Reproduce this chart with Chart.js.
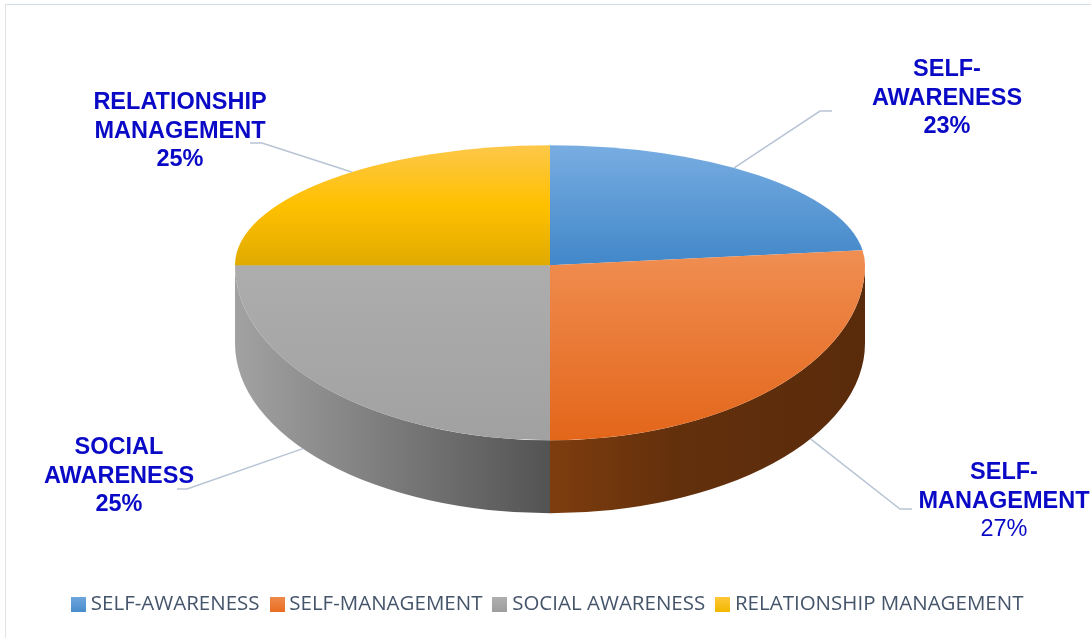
<!DOCTYPE html>
<html>
<head>
<meta charset="utf-8">
<script src="https://cdn.jsdelivr.net/npm/chart.js@4.4.1/dist/chart.umd.min.js"></script>
<style>
  html, body { margin: 0; padding: 0; background: #ffffff; }
  #wrap { position: relative; width: 1091px; height: 638px; overflow: hidden; }
  #wrap canvas { position: absolute; left: 0; top: 0; }
  #frame {
    position: absolute; left: 5px; top: 4px; width: 1200px; height: 800px;
    border-top: 1.5px solid #D5DDE7; border-left: 1.5px solid #E0E3E8;
    pointer-events: none;
  }
</style>
</head>
<body>
<div id="wrap">
  <canvas id="chart" width="1091" height="638"></canvas>
  <div id="frame"></div>
</div>
<script>
// ---- data ----
const categories = ['SELF-AWARENESS', 'SELF-MANAGEMENT', 'SOCIAL AWARENESS', 'RELATIONSHIP MANAGEMENT'];
const shares = [23, 27, 25, 25];
const calloutNames = [['SELF-', 'AWARENESS'], ['SELF-', 'MANAGEMENT'], ['SOCIAL', 'AWARENESS'], ['RELATIONSHIP', 'MANAGEMENT']];

// ---- styling ----
const legendStops = [
  ['#6FA7DE', '#4A8DCD'],
  ['#F08B4B', '#E86E22'],
  ['#B0B0B0', '#9E9E9E'],
  ['#FFC83A', '#F2B800']
];
// vertical gradient stops for each slice's top face (0 = far edge, 1 = near edge)
const faceStops = [
  [[0, '#78ADE1'], [0.5, '#4187C9']],
  [[0.45, '#F08E52'], [1, '#E3661A']],
  [[0.5, '#ADADAD'], [1, '#A1A1A1']],
  [[0, '#FDC84A'], [0.25, '#FFC000'], [0.5, '#E0AB00']]
];
// horizontal gradient stops for each slice's side wall
const wallStops = [
  [[0, '#3A6E9E'], [1, '#2A5480']],
  [[0, '#7E3D0E'], [0.4, '#63300C'], [1, '#5A2B0B']],
  [[0, '#A2A2A2'], [1, '#535353']],
  [[0, '#B38600'], [1, '#806000']]
];
const pctBold = [true, false, true, true];

// tilted-disc geometry (pixels); lift raises the apex above the plot-area centre,
// persp widens near points / narrows far points when placing leader anchors
const tilt = { rx: 315, ryBack: 120, ryFront: 175, ryBase: 170, depth: 78, lift: 24, persp: 0.155 };

// callout placement: text centre, first line y, elbow and end of the leader
const callouts = [
  { tx: 947, ty: 70, elbow: [820, 111], end: [832, 111] },
  { tx: 1004, ty: 473, elbow: [900, 509], end: [912, 509] },
  { tx: 119, ty: 448, elbow: [187, 489], end: [177, 489] },
  { tx: 180, ty: 103, elbow: [262, 143], end: [250, 143] }
];
const calloutLineHeight = 28.5;

// small gradient squares used as legend markers
const legendMarkers = legendStops.map(([top, bottom]) => {
  const c = document.createElement('canvas');
  c.width = 15; c.height = 15;
  const g2 = c.getContext('2d');
  const g = g2.createLinearGradient(0, 0, 0, 15);
  g.addColorStop(0, top);
  g.addColorStop(1, bottom);
  g2.fillStyle = g;
  g2.fillRect(0, 0, 15, 15);
  return c;
});

function discGeometry(chart) {
  const arc = chart.getDatasetMeta(0).data[0];
  return { cx: arc.x, cy: arc.y - tilt.lift, y0: arc.y, r: arc.outerRadius };
}

// face fill: gradient defined in the untransformed (circle) space of the pie
function faceColor(context) {
  const chart = context.chart;
  const area = chart.chartArea;
  const i = context.dataIndex;
  if (!area || i === undefined) return legendStops[i || 0][0];
  const cy = (area.top + area.bottom) / 2;
  const r = Math.min(area.right - area.left, area.bottom - area.top) / 2;
  const g = chart.ctx.createLinearGradient(0, cy - r, 0, cy + r);
  faceStops[i].forEach(([p, c]) => g.addColorStop(p, c));
  return g;
}

function setTransform(ctx, d, sy) {
  ctx.translate(d.cx, d.cy);
  ctx.scale(tilt.rx / d.r, sy / d.r);
  ctx.translate(-d.cx, -d.y0);
}

const tiltedPie = {
  id: 'tiltedPie',
  beforeDatasetsDraw(chart) {
    const ctx = chart.ctx;
    const d = discGeometry(chart);
    const arcs = chart.getDatasetMeta(0).data;

    // side walls of the front half
    arcs.forEach((arc, i) => {
      const a0 = Math.max(arc.startAngle, 0);
      const a1 = Math.min(arc.endAngle, Math.PI);
      if (a1 <= a0) return;
      const xs = [a0, a1].map(a => d.cx + tilt.rx * Math.cos(a));
      const x0 = Math.min(...xs), x1 = Math.max(...xs);
      const g = ctx.createLinearGradient(x0, 0, x1, 0);
      wallStops[i].forEach(([p, c]) => g.addColorStop(p, c));
      ctx.save();
      ctx.fillStyle = g;
      ctx.beginPath();
      ctx.ellipse(d.cx, d.cy, tilt.rx, tilt.ryFront, 0, a0, a1, false);
      ctx.ellipse(d.cx, d.cy + tilt.depth, tilt.rx, tilt.ryBase, 0, a1, a0, true);
      ctx.closePath();
      ctx.fill();
      ctx.restore();
    });

    // far half of the top face: the library draws the slices through this transform
    ctx.save();
    ctx.beginPath();
    ctx.rect(0, 0, chart.width, Math.round(d.cy) + 1);
    ctx.clip();
    setTransform(ctx, d, tilt.ryBack);
  },
  afterDatasetsDraw(chart) {
    const ctx = chart.ctx;
    ctx.restore();
    const d = discGeometry(chart);
    const meta = chart.getDatasetMeta(0);

    // near half of the top face
    ctx.save();
    ctx.beginPath();
    ctx.rect(0, Math.round(d.cy), chart.width, chart.height);
    ctx.clip();
    setTransform(ctx, d, tilt.ryFront);
    meta.controller.draw();
    ctx.restore();

    // callouts
    const total = shares.reduce((a, b) => a + b, 0);
    meta.data.forEach((arc, i) => {
      const mid = (arc.startAngle + arc.endAngle) / 2;
      const s = Math.sin(mid);
      const c = Math.max(-1, Math.min(1, Math.cos(mid) * (1 + tilt.persp * s)));
      const sAdj = Math.sign(s) * Math.sqrt(1 - c * c);
      const ax = d.cx + tilt.rx * c;
      const ay = s < 0 ? d.cy + tilt.ryBack * sAdj : d.cy + tilt.depth + tilt.ryBase * sAdj;
      const L = callouts[i];
      ctx.save();
      ctx.strokeStyle = '#B8C4D4';
      ctx.lineWidth = 1.5;
      ctx.beginPath();
      ctx.moveTo(ax, ay);
      ctx.lineTo(L.elbow[0], L.elbow[1]);
      ctx.lineTo(L.end[0], L.end[1]);
      ctx.stroke();

      ctx.fillStyle = '#0A0AC6';
      ctx.textAlign = 'center';
      ctx.textBaseline = 'middle';
      const lines = calloutNames[i];
      ctx.font = 'bold 23.5px "Liberation Sans", Arial, sans-serif';
      lines.forEach((t, k) => ctx.fillText(t, L.tx, L.ty + k * calloutLineHeight));
      const pct = Math.round(shares[i] / total * 100) + '%';
      ctx.font = (pctBold[i] ? 'bold ' : '') + '23.5px "Liberation Sans", Arial, sans-serif';
      ctx.fillText(pct, L.tx, L.ty + lines.length * calloutLineHeight);
      ctx.restore();
    });
  }
};

new Chart(document.getElementById('chart'), {
  type: 'pie',
  data: {
    labels: categories,
    datasets: [{
      data: shares,
      backgroundColor: faceColor,
      borderWidth: 0,
      clip: false
    }]
  },
  options: {
    responsive: false,
    animation: false,
    events: [],
    layout: { padding: { top: 0, left: 9, right: 0, bottom: 13.5 } },
    plugins: {
      tooltip: { enabled: false },
      legend: {
        position: 'bottom',
        labels: {
          usePointStyle: true,
          boxWidth: 4,
          boxHeight: 15,
          padding: 15.5,
          color: '#44546A',
          font: { family: '"Open Sans", sans-serif', size: 20.5 },
          generateLabels: () => categories.map((name, i) => ({
            text: name,
            pointStyle: legendMarkers[i],
            fillStyle: legendStops[i][0],
            strokeStyle: legendStops[i][0],
            lineWidth: 0,
            fontColor: '#44546A',
            index: i,
            hidden: false
          }))
        }
      }
    }
  },
  plugins: [tiltedPie]
});
</script>
</body>
</html>
